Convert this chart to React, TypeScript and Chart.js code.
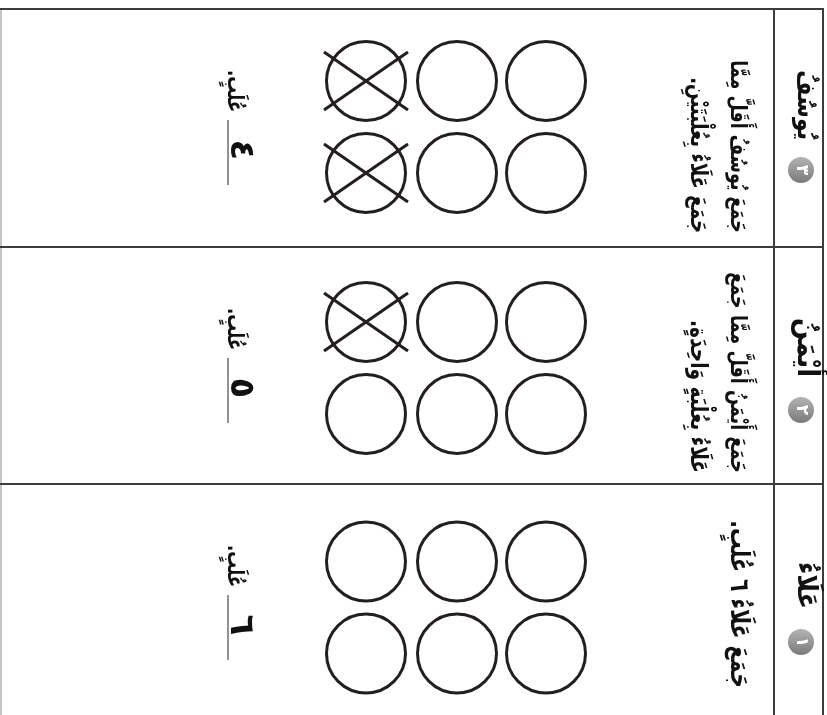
import React, { useEffect, useRef } from 'react';
import { Chart, registerables } from 'chart.js';

Chart.register(...registerables);

// ---------------- data ----------------
const names = ['عَلَاءُ', 'أَيْمَنُ', 'يُوسُفُ'];
const badgeNumbers = ['١', '٢', '٣'];
const boxesPerChild = [6, 6, 6];
const crossedBoxes = [0, 1, 2];
const answers = ['٦', '٥', '٤'];
const unitWord = 'عُلَبٍ.';
const sentenceLines = [
  ['جَمَعَ عَلَاءُ ٦ عُلَبٍ.'],
  ['جَمَعَ أَيْمَنُ أَقَلَّ مِمَّا جَمَعَ', 'عَلَاءُ بِعُلْبَةٍ وَاحِدَةٍ.'],
  ['جَمَعَ يُوسُفُ أَقَلَّ مِمَّا', 'جَمَعَ عَلَاءُ بِعُلْبَتَيْنِ.'],
];

// ---------------- layout (scale units) ----------------
const W = 827;
const H = 715;
const PANEL_TOP = [484, 247, 9];
const GRID_MID = [123.5, 121, 118];
const ROW_HALF = 46;
const COL_X = [366, 457, 546];
const CIRCLE_R = 39.5;
const CROSS_DX = 42;
const CROSS_DY = 29;
const DIVIDER_X = 774;
const RIGHT_X = 823;
const LEFT_X = 1;
const SENT_BASE_X = [731, 691];
const SENT_START = [204, 226, 224];
const SENT_LEN = [[168], [201, 153], [173, 156]];
const SENT_STRETCH = 1.3;
const NAME_BASE_X = 798;
const NAME_START = [125, 130, 131];
const NAME_LEN = [47, 59, 70];
const BADGE_X = 801;
const BADGE_Y = [158, 163, 161];
const BADGE_R = 13;
const ANS_LINE_X = 228;
const ANS_LINE_Y = [111, 176];
const WORD_START = 103;
const WORD_LEN = 42;
const DIGIT_Y = 141;

const INK = '#231f20';
const FONT = "'DejaVu Sans', 'Noto Sans', sans-serif";

function circlePoints() {
  const pts: { x: number; y: number }[] = [];
  boxesPerChild.forEach((n, p) => {
    for (let k = 0; k < n; k++) {
      const col = Math.floor(k / 2);
      const row = k % 2;
      pts.push({ x: COL_X[col], y: PANEL_TOP[p] + GRID_MID[p] + (row === 0 ? -ROW_HALF : ROW_HALF) });
    }
  });
  return pts;
}

function crossPoints() {
  const pts: { x: number; y: number | null }[] = [];
  crossedBoxes.forEach((n, p) => {
    for (let k = 0; k < n; k++) {
      const col = Math.floor(k / 2);
      const row = k % 2;
      const cx = COL_X[col];
      const cy = PANEL_TOP[p] + GRID_MID[p] + (row === 0 ? -ROW_HALF : ROW_HALF);
      pts.push({ x: cx - CROSS_DX, y: cy - CROSS_DY });
      pts.push({ x: cx + CROSS_DX, y: cy + CROSS_DY });
      pts.push({ x: cx, y: null });
      pts.push({ x: cx - CROSS_DX, y: cy + CROSS_DY });
      pts.push({ x: cx + CROSS_DX, y: cy - CROSS_DY });
      pts.push({ x: cx, y: null });
    }
  });
  return pts;
}

function rotText(
  ctx: CanvasRenderingContext2D,
  text: string,
  px: number,
  py: number,
  weight: string,
  targetLen: number | null,
  size: number,
  align: CanvasTextAlign,
  baseline: CanvasTextBaseline,
  color: string,
  stretch = 1
) {
  ctx.save();
  ctx.translate(px, py);
  ctx.rotate(Math.PI / 2);
  ctx.scale(1, stretch);
  ctx.direction = 'rtl';
  let s = size;
  if (targetLen) {
    ctx.font = `${weight} 100px ${FONT}`;
    const w = ctx.measureText(text).width;
    s = (100 * targetLen) / w;
  }
  ctx.font = `${weight} ${s}px ${FONT}`;
  ctx.textAlign = align;
  ctx.textBaseline = baseline;
  ctx.fillStyle = color;
  ctx.fillText(text, 0, 0);
  ctx.restore();
}

const worksheetPlugin = {
  id: 'worksheet',
  beforeDatasetsDraw(chart: any) {
    const ctx: CanvasRenderingContext2D = chart.ctx;
    const xs = chart.scales.x;
    const ys = chart.scales.y;
    const X = (v: number) => xs.getPixelForValue(v);
    const Y = (v: number) => ys.getPixelForValue(v);
    ctx.save();
    ctx.fillStyle = '#ffffff';
    ctx.fillRect(0, 0, chart.width, chart.height);
    ctx.strokeStyle = '#c4c4c4';
    ctx.lineWidth = 2;
    ctx.beginPath();
    ctx.moveTo(X(LEFT_X), Y(PANEL_TOP[2]));
    ctx.lineTo(X(LEFT_X), Y(H));
    ctx.stroke();
    ctx.strokeStyle = '#3c3c3c';
    ctx.lineWidth = 2;
    ctx.beginPath();
    PANEL_TOP.forEach((t) => {
      ctx.moveTo(X(0), Y(t));
      ctx.lineTo(X(RIGHT_X + 1), Y(t));
    });
    ctx.moveTo(X(DIVIDER_X), Y(PANEL_TOP[2]));
    ctx.lineTo(X(DIVIDER_X), Y(H));
    ctx.moveTo(X(RIGHT_X), Y(PANEL_TOP[2]));
    ctx.lineTo(X(RIGHT_X), Y(H));
    ctx.stroke();
    ctx.restore();
  },
  afterDatasetsDraw(chart: any) {
    const ctx: CanvasRenderingContext2D = chart.ctx;
    const xs = chart.scales.x;
    const ys = chart.scales.y;
    const X = (v: number) => xs.getPixelForValue(v);
    const Y = (v: number) => ys.getPixelForValue(v);
    names.forEach((name, p) => {
      const top = PANEL_TOP[p];
      const bx = X(BADGE_X);
      const by = Y(top + BADGE_Y[p]);
      const g = ctx.createLinearGradient(bx, by - BADGE_R, bx, by + BADGE_R);
      g.addColorStop(0, '#b4b4b4');
      g.addColorStop(1, '#7a7a7a');
      ctx.save();
      ctx.beginPath();
      ctx.arc(bx, by, BADGE_R, 0, Math.PI * 2);
      ctx.fillStyle = g;
      ctx.fill();
      ctx.restore();
      rotText(ctx, badgeNumbers[p], bx, by, 'bold', null, 17, 'center', 'middle', '#ffffff');
      rotText(ctx, name, X(NAME_BASE_X), Y(top + NAME_START[p]), 'bold', NAME_LEN[p], 24, 'right', 'alphabetic', '#111111', 1.15);
      sentenceLines[p].forEach((line, li) => {
        rotText(ctx, line, X(SENT_BASE_X[li]), Y(top + SENT_START[p]), 'bold', SENT_LEN[p][li], 22, 'right', 'alphabetic', '#111111', SENT_STRETCH);
      });
      ctx.save();
      ctx.strokeStyle = '#6e6e6e';
      ctx.lineWidth = 1.5;
      ctx.beginPath();
      ctx.moveTo(X(ANS_LINE_X), Y(top + ANS_LINE_Y[0]));
      ctx.lineTo(X(ANS_LINE_X), Y(top + ANS_LINE_Y[1]));
      ctx.stroke();
      ctx.restore();
      rotText(ctx, unitWord, X(ANS_LINE_X), Y(top + WORD_START), 'bold', WORD_LEN, 22, 'right', 'alphabetic', '#111111', 1.35);
      rotText(ctx, answers[p], X(ANS_LINE_X + 3), Y(top + DIGIT_Y), 'bold', null, 34, 'center', 'alphabetic', '#111111');
    });
  },
};

export default function App() {
  const ref = useRef<HTMLCanvasElement | null>(null);
  useEffect(() => {
    if (!ref.current) return;
    const chart = new Chart(ref.current, {
      type: 'scatter',
      data: {
        datasets: [
          {
            label: 'boxes',
            data: circlePoints(),
            pointStyle: 'circle',
            pointRadius: CIRCLE_R,
            pointHoverRadius: CIRCLE_R,
            pointBorderWidth: 3,
            borderColor: INK,
            backgroundColor: 'rgba(0,0,0,0)',
            pointBackgroundColor: 'rgba(0,0,0,0)',
            pointBorderColor: INK,
          } as any,
          {
            type: 'line',
            label: 'crossed',
            data: crossPoints(),
            showLine: true,
            spanGaps: false,
            pointRadius: 0,
            borderColor: INK,
            borderWidth: 3,
            fill: false,
            tension: 0,
          } as any,
        ],
      },
      options: {
        animation: false,
        responsive: false,
        events: [],
        layout: { padding: 0, autoPadding: false },
        plugins: { legend: { display: false }, tooltip: { enabled: false } },
        scales: {
          x: { type: 'linear', min: 0, max: W, display: false },
          y: { type: 'linear', min: 0, max: H, reverse: true, display: false },
        },
      },
      plugins: [worksheetPlugin],
    });
    return () => chart.destroy();
  }, []);
  return (
    <div style={{ position: 'fixed', left: 0, top: 0, width: W, height: H, background: '#fff' }}>
      <canvas ref={ref} width={W} height={H} style={{ display: 'block', width: W, height: H }} />
    </div>
  );
}
